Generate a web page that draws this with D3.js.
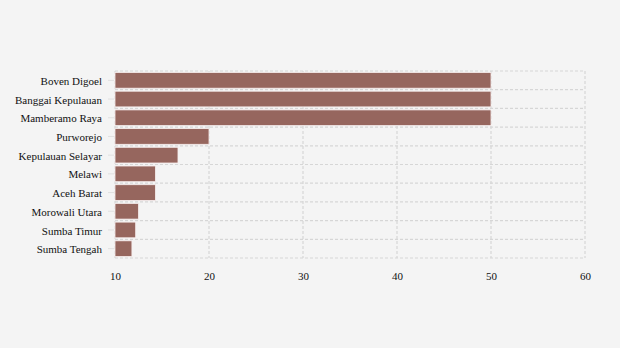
<!DOCTYPE html>
<html><head><meta charset="utf-8">
<script src="https://cdn.jsdelivr.net/npm/d3@7"></script>
<style>body{margin:0;background:#f4f4f4;} svg{display:block;}</style>
</head><body>
<script>
const categories = ["Boven Digoel","Banggai Kepulauan","Mamberamo Raya","Purworejo","Kepulauan Selayar","Melawi","Aceh Barat","Morowali Utara","Sumba Timur","Sumba Tengah"];
const values = [50,50,50,20,16.7,14.3,14.3,12.5,12.2,11.8];
const xTicks = [10,20,30,40,50,60];

const W=620,H=348;
const m={top:71,right:35,bottom:90,left:115};
const svg=d3.select("body").append("svg").attr("width",W).attr("height",H);
svg.append("rect").attr("width",W).attr("height",H).attr("fill","#f4f4f4");

const x=d3.scaleLinear().domain([10,60]).range([m.left,W-m.right]);
const y=d3.scaleBand().domain(categories).range([m.top,H-m.bottom]).paddingInner(0).paddingOuter(0);
const grid="#d6d6d6";
const g=svg.append("g");
g.selectAll(".vg").data(xTicks).enter().append("line")
 .attr("x1",d=>x(d)).attr("x2",d=>x(d)).attr("y1",m.top).attr("y2",H-m.bottom)
 .attr("stroke",grid).attr("stroke-width",1.2).attr("stroke-dasharray","3,2");
const edges=categories.map(c=>y(c)).concat([y(categories[categories.length-1])+y.bandwidth()]);
g.selectAll(".hg").data(edges).enter().append("line")
 .attr("x1",m.left).attr("x2",W-m.right).attr("y1",d=>d).attr("y2",d=>d)
 .attr("stroke",grid).attr("stroke-width",1.2).attr("stroke-dasharray","3,2");

svg.selectAll(".bar").data(categories).enter().append("rect")
 .attr("x",x(10)).attr("y",c=>y(c)+1.5).attr("height",y.bandwidth()-3)
 .attr("width",(c,i)=>x(values[i])-x(10))
 .attr("fill","#96665e").attr("stroke","#f7eeee").attr("stroke-width",0.8);

const ya=svg.append("g").attr("transform",`translate(${m.left-1},0)`)
 .call(d3.axisLeft(y).tickSize(6).tickPadding(6));
ya.select(".domain").remove();
ya.selectAll(".tick line").attr("stroke","#e0e0e0");
ya.selectAll("text").attr("dy","0.42em").attr("font-family","'Liberation Serif','Times New Roman',serif").attr("font-size",11).attr("fill","#111");

const xa=svg.append("g").attr("transform",`translate(0,${H-m.bottom})`)
 .call(d3.axisBottom(x).tickValues(xTicks).tickSize(0).tickPadding(14));
xa.select(".domain").remove();
xa.selectAll("text").attr("font-family","'Liberation Serif','Times New Roman',serif").attr("font-size",11).attr("fill","#111");
</script>
</body></html>
